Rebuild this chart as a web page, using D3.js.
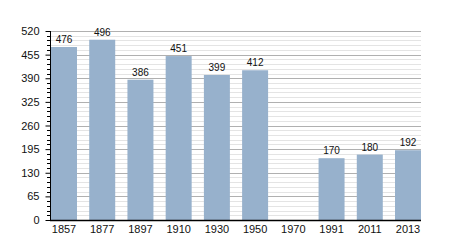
<!DOCTYPE html>
<html>
<head>
<meta charset="utf-8">
<script src="https://cdn.jsdelivr.net/npm/d3@7"></script>
<style>
  body { margin: 0; background: #fff; }
  text { font-family: "Liberation Sans", Arial, sans-serif; font-size: 10px; fill: #111; }
</style>
</head>
<body>
<div id="graph"></div>
<script>
// population by census year (1970 has no value)
var years = ["1857", "1877", "1897", "1910", "1930", "1950", "1970", "1991", "2011", "2013"];
var population = [476, 496, 386, 451, 399, 412, null, 170, 180, 192];
var yTicks = [0, 65, 130, 195, 260, 325, 390, 455, 520];

var width = 450;
var height = 250;

var svg = d3.select("#graph")
  .append("svg")
  .attr("width", width)
  .attr("height", height);

var x = d3.scaleBand()
  .domain(years)
  .range([51, 421])
  .paddingInner(0.32)
  .paddingOuter(0);

var y = d3.scaleLinear()
  .domain([0, 520])
  .range([220, 31]);

// minor gridlines every 13
var minor = d3.range(0, 521, 13).filter(function(v) { return v % 65 !== 0; });

svg.append("g").selectAll("line")
  .data(minor)
  .enter()
  .append("line")
  .attr("x1", 50).attr("x2", 421)
  .attr("y1", function(d) { return Math.round(y(d)) + 0.5; })
  .attr("y2", function(d) { return Math.round(y(d)) + 0.5; })
  .attr("stroke", "#e4e4e4")
  .attr("stroke-width", 1);

svg.append("g").selectAll("line")
  .data(yTicks.slice(1))
  .enter()
  .append("line")
  .attr("x1", 50).attr("x2", 421)
  .attr("y1", function(d) { return Math.round(y(d)) + 0.5; })
  .attr("y2", function(d) { return Math.round(y(d)) + 0.5; })
  .attr("stroke", "#b0b0b0")
  .attr("stroke-width", 1);

// minor ticks on the y axis
svg.append("g").selectAll("line")
  .data(minor)
  .enter()
  .append("line")
  .attr("x1", 47).attr("x2", 50)
  .attr("y1", function(d) { return Math.round(y(d)) + 0.5; })
  .attr("y2", function(d) { return Math.round(y(d)) + 0.5; })
  .attr("stroke", "#000");

var bars = years.map(function(yr, i) { return { year: yr, value: population[i] }; })
  .filter(function(d) { return d.value != null; });

svg.append("g").selectAll("rect")
  .data(bars)
  .enter()
  .append("rect")
  .attr("x", function(d) { return x(d.year); })
  .attr("width", x.bandwidth())
  .attr("y", function(d) { return y(d.value); })
  .attr("height", function(d) { return y(0) - y(d.value); })
  .attr("fill", "#97b1cc");

svg.append("g").selectAll("text")
  .data(bars)
  .enter()
  .append("text")
  .attr("x", function(d) { return x(d.year) + x.bandwidth() / 2; })
  .attr("y", function(d) { return y(d.value) - 4; })
  .attr("text-anchor", "middle")
  .text(function(d) { return d.value; });

var yAxis = svg.append("g")
  .attr("transform", "translate(50.5,0)")
  .call(d3.axisLeft(y).tickValues(yTicks).tickSize(5).tickPadding(6));
yAxis.select(".domain").attr("d", "M0," + y(520) + "V" + y(0));
yAxis.selectAll("text").style("font-size", "11px").style("font-family", "Liberation Sans, Arial, sans-serif");

var xAxis = svg.append("g")
  .attr("transform", "translate(0," + (y(0) + 0.5) + ")")
  .call(d3.axisBottom(x).tickSize(0).tickPadding(5));
xAxis.select(".domain").attr("d", "M50,0H421").attr("stroke-width", 1.5);
xAxis.selectAll("text").style("font-size", "11px").style("font-family", "Liberation Sans, Arial, sans-serif");
</script>
</body>
</html>
